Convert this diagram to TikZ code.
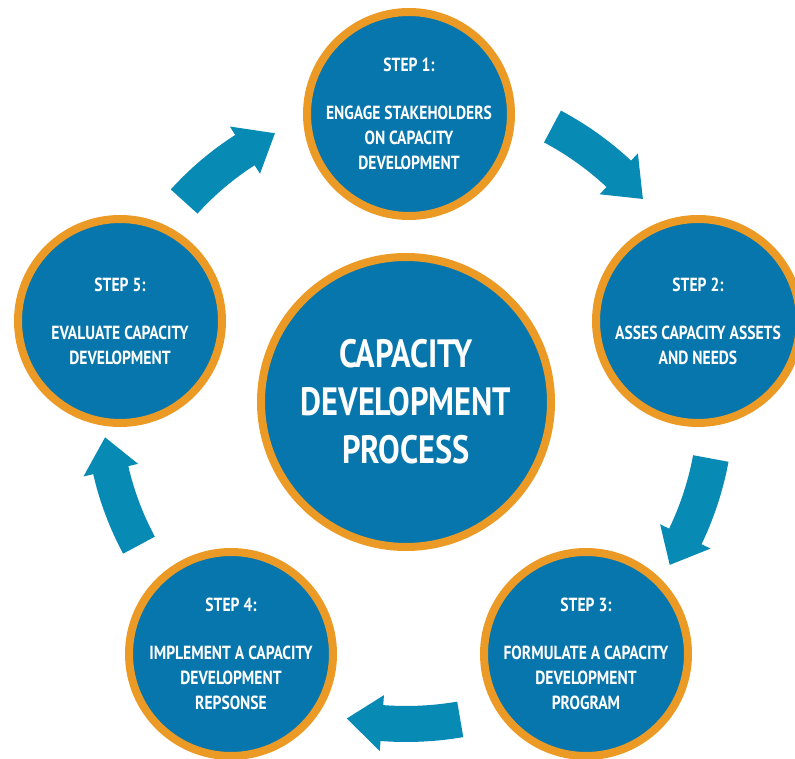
\documentclass[tikz,border=0pt]{standalone}
\usepackage{fontspec}
\setmainfont{PT Sans}[FakeStretch=0.82]
\usetikzlibrary{calc}

\definecolor{stepblue}{HTML}{0776AC}
\definecolor{ringorange}{HTML}{EC9A26}
\definecolor{arrowteal}{HTML}{078AB4}

% curved arrow round the hub: tail angle, base angle, tip angle, radius
\newcommand{\cyclearrow}[4]{%
  \fill[arrowband] ($(hub)+(#1:#4+18)$) arc[start angle=#1, end angle=#2, radius=#4+18]
    -- ($(hub)+(#2:#4+28)$) -- ($(hub)+(#3:#4)$) -- ($(hub)+(#2:#4-28)$)
    -- ($(hub)+(#2:#4-18)$) arc[start angle=#2, end angle=#1, radius=#4-18] -- cycle;}

\begin{document}
\begin{tikzpicture}[x=1pt, y=1pt,
    stepcircle/.style={circle, fill=stepblue, draw=ringorange, line width=8pt,
      minimum size=204pt, inner sep=0pt, text=white, align=center,
      font=\bfseries\fontsize{19}{25}\selectfont},
    hubcircle/.style={stepcircle, minimum size=290pt,
      font=\bfseries\fontsize{39.5}{48}\selectfont},
    arrowband/.style={fill=arrowteal}]
		\useasboundingbox (0,0) rectangle (795,758);
		
		\node (hub) at (406,356) [hubcircle] {CAPACITY\\DEVELOPMENT\\PROCESS};
		
		\node (S1) at (409,644) [stepcircle] {STEP 1:\\[23pt]ENGAGE STAKEHOLDERS\\ON CAPACITY\\DEVELOPMENT};
		\node (S2) at (698,437) [stepcircle] {STEP 2:\\[23pt]ASSES CAPACITY ASSETS\\AND NEEDS};
		\node (S3) at (586,104) [stepcircle] {STEP 3:\\[23pt]FORMULATE A CAPACITY\\DEVELOPMENT\\PROGRAM};
		\node (S4) at (231,104) [stepcircle] {STEP 4:\\[23pt]IMPLEMENT A CAPACITY\\DEVELOPMENT\\REPSONSE};
		\node (S5) at (120,437) [stepcircle] {STEP 5:\\[23pt]EVALUATE CAPACITY\\DEVELOPMENT};
		
		\cyclearrow{62}{47}{40.6}{312}
		\cyclearrow{-10.5}{-25.7}{-31.7}{310}
		\cyclearrow{-80.3}{-94.3}{-100.6}{322}
		\cyclearrow{-151.8}{-167}{-173.3}{303}
		\cyclearrow{137.9}{122.6}{116}{299}
		\end{tikzpicture}
\end{document}
